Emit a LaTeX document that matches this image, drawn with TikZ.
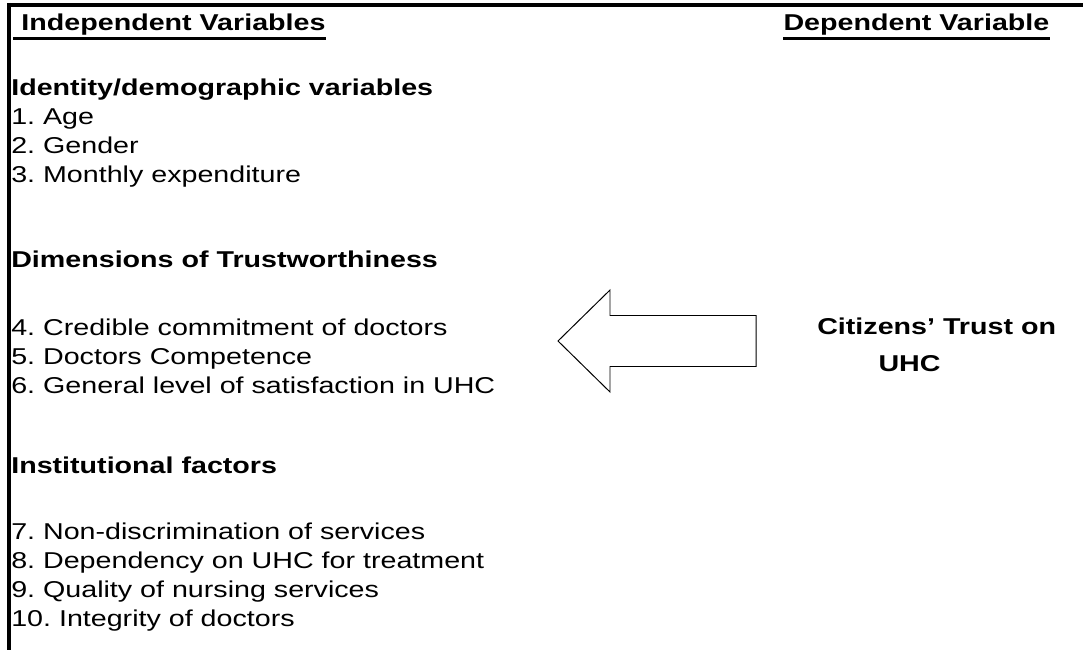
\documentclass[tikz,border=0pt]{standalone}
\usepackage{fontspec}
\setmainfont{Liberation Sans}[FakeStretch=1.25]
\frenchspacing
\tikzset{
  every picture/.style={line width=0.7pt},
  txt/.style={anchor=base west, inner sep=0pt, align=left, font=\fontsize{16.3}{20.55}\selectfont},
  head/.style={txt, font=\fontsize{16.3}{20.55}\selectfont\bfseries},
  uline/.style={line width=0.075cm},
  rule/.style={line width=#1},
  rule/.default=0.1cm,
}

\begin{document}
\begin{tikzpicture}
  \useasboundingbox (0,0) rectangle (27.075,-16.25);
  % frame
  \draw[rule] (0.18,-0.12) -- (27.075,-0.12);
  \draw[rule=0.0875cm] (0.225,-0.07) -- (0.225,-16.25);
  % column titles
  \node[head] (indep) at (0.325,-0.75) {\ Independent Variables};
  \node[head] (dep) at (19.575,-0.75) {Dependent Variable};
  \draw[uline] ([yshift=-0.2cm]indep.base west) -- ([yshift=-0.2cm]indep.base east);
  \draw[uline] ([yshift=-0.2cm]dep.base west) -- ([yshift=-0.2cm]dep.base east);
  % independent variables (base = last line)
  \node[txt] (ident) at (0.27,-4.55) {\textbf{Identity/demographic variables}\\1. Age\\2. Gender\\3. Monthly expenditure};
  \node[head] (dims) at (0.27,-6.675) {Dimensions of Trustworthiness};
  \node[txt] (dimlist) at (0.27,-9.825) {4. Credible commitment of doctors\\5. Doctors Competence\\6. General level of satisfaction in UHC};
  \node[head] (inst) at (0.27,-11.825) {Institutional factors};
  \node[txt] (instlist) at (0.27,-15.65) {7. Non-discrimination of services\\8. Dependency on UHC for treatment\\9. Quality of nursing services\\10. Integrity of doctors};
  % dependent variable
  \node[head] (trust) at (20.42,-8.35) {Citizens’ Trust on};
  \node[head] (uhc) at (21.95,-9.275) {UHC};
  % block arrow
  \draw[line join=miter] (13.95,-8.525) -- (15.25,-7.25) -- (15.25,-7.8875) -- (18.9,-7.8875)
    -- (18.9,-9.1625) -- (15.25,-9.1625) -- (15.25,-9.8) -- cycle;
\end{tikzpicture}
\end{document}
